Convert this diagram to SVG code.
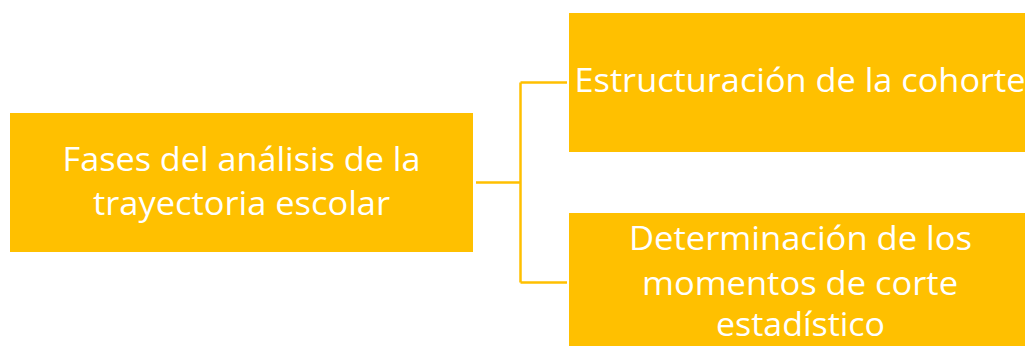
<svg xmlns="http://www.w3.org/2000/svg" width="1025" height="346" viewBox="0 0 1025 346">
<style>
.box{fill:#FFC000;}
.lbl{font-family:"Open Sans","Noto Sans","Liberation Sans",sans-serif;font-size:33px;fill:#FFFFFF;text-anchor:middle;}
.conn{fill:none;stroke:#FFC000;stroke-width:2.5;}
</style>
<rect width="1025" height="346" fill="#FFFFFF"/>
<g id="connectors">
<path class="conn" d="M476,182.5 H520.5 M520.5,82.5 V282.5 M520.5,82.5 H567 M520.5,282.5 H567"/>
</g>
<g id="node-fases">
<rect class="box" x="10" y="113" width="463" height="139"/>
<text class="lbl" x="241.5" y="171" textLength="358" lengthAdjust="spacingAndGlyphs">Fases del análisis de la</text>
<text class="lbl" x="241.5" y="215" textLength="297" lengthAdjust="spacingAndGlyphs">trayectoria escolar</text>
</g>
<g id="node-estructuracion">
<rect class="box" x="569" y="13" width="463" height="139"/>
<text class="lbl" x="800" y="92" textLength="451" lengthAdjust="spacingAndGlyphs">Estructuración de la cohorte</text>
</g>
<g id="node-determinacion">
<rect class="box" x="569" y="213" width="463" height="140"/>
<text class="lbl" x="800.5" y="249.5" textLength="343" lengthAdjust="spacingAndGlyphs">Determinación de los</text>
<text class="lbl" x="800" y="294.5" textLength="316" lengthAdjust="spacingAndGlyphs">momentos de corte</text>
<text class="lbl" x="800.5" y="336" textLength="169" lengthAdjust="spacingAndGlyphs">estadístico</text>
</g>
</svg>
